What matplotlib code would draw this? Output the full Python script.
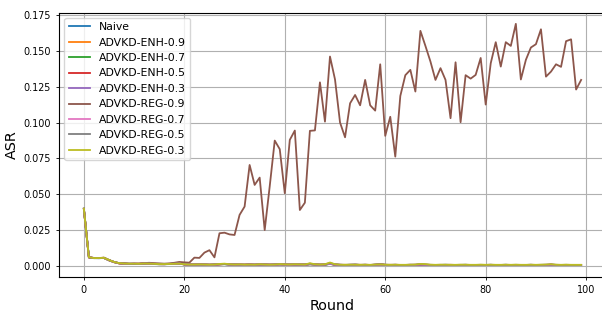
import matplotlib
matplotlib.use("Agg")
import matplotlib.pyplot as plt
import numpy as np

rounds = list(range(100))

labels = ["Naive", "ADVKD-ENH-0.9", "ADVKD-ENH-0.7", "ADVKD-ENH-0.5", "ADVKD-ENH-0.3",
          "ADVKD-REG-0.9", "ADVKD-REG-0.7", "ADVKD-REG-0.5", "ADVKD-REG-0.3"]

naive = [0.0400, 0.0062, 0.0055, 0.0054, 0.0056, 0.0041, 0.0027, 0.0019, 0.0016, 0.0015,
         0.0016, 0.0014, 0.0018, 0.0017, 0.0015, 0.0013, 0.0012, 0.0014, 0.0016, 0.0018,
         0.0012, 0.0010, 0.0009, 0.0011, 0.0010, 0.0008, 0.0009, 0.0012, 0.0013, 0.0011,
         0.0010, 0.0009, 0.0008, 0.0010, 0.0009, 0.0011, 0.0010, 0.0008, 0.0009, 0.0012,
         0.0010, 0.0009, 0.0011, 0.0010, 0.0009, 0.0013, 0.0011, 0.0009, 0.0010, 0.0015,
         0.0010, 0.0008, 0.0007, 0.0008, 0.0009, 0.0007, 0.0008, 0.0006, 0.0009, 0.0012,
         0.0008, 0.0007, 0.0008, 0.0006, 0.0007, 0.0008, 0.0007, 0.0009, 0.0008, 0.0007,
         0.0006, 0.0007, 0.0008, 0.0007, 0.0006, 0.0007, 0.0008, 0.0006, 0.0007, 0.0006,
         0.0007, 0.0008, 0.0006, 0.0007, 0.0008, 0.0006, 0.0007, 0.0006, 0.0007, 0.0008,
         0.0006, 0.0007, 0.0006, 0.0008, 0.0007, 0.0006, 0.0007, 0.0006, 0.0007, 0.0006]

enh_09 = [0.0395, 0.0060, 0.0056, 0.0055, 0.0057, 0.0040, 0.0026, 0.0018, 0.0015, 0.0014,
          0.0015, 0.0016, 0.0017, 0.0015, 0.0014, 0.0012, 0.0013, 0.0015, 0.0014, 0.0016,
          0.0011, 0.0009, 0.0010, 0.0012, 0.0009, 0.0008, 0.0010, 0.0011, 0.0014, 0.0010,
          0.0009, 0.0010, 0.0009, 0.0011, 0.0008, 0.0010, 0.0009, 0.0009, 0.0010, 0.0011,
          0.0009, 0.0010, 0.0010, 0.0009, 0.0010, 0.0012, 0.0010, 0.0008, 0.0011, 0.0016,
          0.0009, 0.0007, 0.0008, 0.0007, 0.0008, 0.0008, 0.0007, 0.0007, 0.0008, 0.0010,
          0.0007, 0.0008, 0.0007, 0.0007, 0.0006, 0.0007, 0.0008, 0.0010, 0.0007, 0.0006,
          0.0007, 0.0006, 0.0007, 0.0008, 0.0007, 0.0006, 0.0007, 0.0007, 0.0006, 0.0007,
          0.0006, 0.0007, 0.0007, 0.0006, 0.0007, 0.0007, 0.0006, 0.0007, 0.0006, 0.0007,
          0.0007, 0.0006, 0.0007, 0.0009, 0.0006, 0.0007, 0.0006, 0.0007, 0.0006, 0.0007]

enh_07 = [0.0398, 0.0061, 0.0054, 0.0055, 0.0055, 0.0039, 0.0027, 0.0019, 0.0016, 0.0015,
          0.0014, 0.0015, 0.0016, 0.0016, 0.0013, 0.0012, 0.0012, 0.0013, 0.0015, 0.0017,
          0.0010, 0.0009, 0.0009, 0.0010, 0.0009, 0.0008, 0.0009, 0.0012, 0.0012, 0.0010,
          0.0009, 0.0009, 0.0008, 0.0009, 0.0008, 0.0010, 0.0009, 0.0008, 0.0009, 0.0011,
          0.0010, 0.0008, 0.0010, 0.0009, 0.0008, 0.0012, 0.0010, 0.0008, 0.0009, 0.0014,
          0.0009, 0.0007, 0.0007, 0.0008, 0.0008, 0.0007, 0.0007, 0.0006, 0.0008, 0.0011,
          0.0007, 0.0007, 0.0007, 0.0006, 0.0006, 0.0007, 0.0007, 0.0009, 0.0007, 0.0006,
          0.0006, 0.0006, 0.0007, 0.0007, 0.0006, 0.0006, 0.0007, 0.0006, 0.0006, 0.0006,
          0.0006, 0.0007, 0.0006, 0.0006, 0.0007, 0.0006, 0.0006, 0.0006, 0.0006, 0.0007,
          0.0006, 0.0006, 0.0006, 0.0008, 0.0006, 0.0006, 0.0006, 0.0006, 0.0006, 0.0006]

enh_05 = [0.0397, 0.0059, 0.0055, 0.0056, 0.0056, 0.0040, 0.0028, 0.0018, 0.0017, 0.0015,
          0.0015, 0.0015, 0.0018, 0.0016, 0.0014, 0.0013, 0.0012, 0.0014, 0.0015, 0.0017,
          0.0011, 0.0010, 0.0009, 0.0011, 0.0010, 0.0009, 0.0009, 0.0011, 0.0013, 0.0011,
          0.0010, 0.0009, 0.0009, 0.0010, 0.0009, 0.0010, 0.0010, 0.0009, 0.0009, 0.0012,
          0.0010, 0.0009, 0.0010, 0.0010, 0.0009, 0.0013, 0.0011, 0.0009, 0.0010, 0.0015,
          0.0009, 0.0008, 0.0007, 0.0008, 0.0008, 0.0007, 0.0008, 0.0007, 0.0008, 0.0011,
          0.0008, 0.0007, 0.0008, 0.0007, 0.0007, 0.0008, 0.0007, 0.0009, 0.0008, 0.0007,
          0.0006, 0.0007, 0.0007, 0.0007, 0.0006, 0.0007, 0.0007, 0.0006, 0.0007, 0.0006,
          0.0007, 0.0007, 0.0006, 0.0007, 0.0007, 0.0006, 0.0007, 0.0006, 0.0007, 0.0007,
          0.0006, 0.0007, 0.0006, 0.0008, 0.0007, 0.0006, 0.0007, 0.0006, 0.0007, 0.0006]

enh_03 = [0.0396, 0.0060, 0.0055, 0.0054, 0.0056, 0.0041, 0.0027, 0.0019, 0.0016, 0.0014,
          0.0015, 0.0014, 0.0017, 0.0016, 0.0014, 0.0012, 0.0013, 0.0014, 0.0015, 0.0016,
          0.0011, 0.0009, 0.0010, 0.0011, 0.0009, 0.0008, 0.0010, 0.0012, 0.0013, 0.0010,
          0.0010, 0.0009, 0.0008, 0.0010, 0.0009, 0.0010, 0.0009, 0.0009, 0.0010, 0.0011,
          0.0009, 0.0009, 0.0010, 0.0010, 0.0009, 0.0012, 0.0010, 0.0009, 0.0010, 0.0014,
          0.0009, 0.0008, 0.0007, 0.0007, 0.0008, 0.0007, 0.0008, 0.0007, 0.0008, 0.0010,
          0.0007, 0.0007, 0.0007, 0.0007, 0.0006, 0.0007, 0.0008, 0.0009, 0.0007, 0.0007,
          0.0006, 0.0007, 0.0007, 0.0007, 0.0006, 0.0007, 0.0007, 0.0006, 0.0007, 0.0006,
          0.0006, 0.0007, 0.0006, 0.0007, 0.0007, 0.0006, 0.0007, 0.0006, 0.0006, 0.0007,
          0.0006, 0.0007, 0.0006, 0.0008, 0.0006, 0.0007, 0.0006, 0.0007, 0.0006, 0.0006]

reg_09 = [0.0400, 0.0060, 0.0055, 0.0055, 0.0058, 0.0040, 0.0028, 0.0020, 0.0018, 0.0016,
          0.0017, 0.0016, 0.0020, 0.0022, 0.0020, 0.0018, 0.0016, 0.0018, 0.0022, 0.0028,
          0.0025, 0.0023, 0.0058, 0.0056, 0.0093, 0.0110, 0.0060, 0.0228, 0.0232, 0.0220,
          0.0216, 0.0356, 0.0414, 0.0704, 0.0565, 0.0616, 0.0250, 0.0555, 0.0874, 0.0814,
          0.0507, 0.0879, 0.0944, 0.0390, 0.0441, 0.0942, 0.0945, 0.1280, 0.1006, 0.1460,
          0.1300, 0.1000, 0.0897, 0.1134, 0.1192, 0.1120, 0.1297, 0.1120, 0.1083, 0.1406,
          0.0907, 0.1040, 0.0762, 0.1185, 0.1330, 0.1367, 0.1216, 0.1639, 0.1534, 0.1425,
          0.1297, 0.1379, 0.1297, 0.1030, 0.1420, 0.1002, 0.1330, 0.1306, 0.1332, 0.1450,
          0.1125, 0.1413, 0.1560, 0.1390, 0.1560, 0.1534, 0.1688, 0.1300, 0.1437, 0.1523,
          0.1546, 0.1650, 0.1320, 0.1355, 0.1406, 0.1388, 0.1567, 0.1580, 0.1230, 0.1297]

reg_07 = [0.0399, 0.0061, 0.0056, 0.0055, 0.0056, 0.0040, 0.0027, 0.0019, 0.0016, 0.0015,
          0.0016, 0.0015, 0.0017, 0.0016, 0.0015, 0.0013, 0.0012, 0.0014, 0.0015, 0.0017,
          0.0011, 0.0010, 0.0009, 0.0011, 0.0010, 0.0008, 0.0009, 0.0013, 0.0014, 0.0011,
          0.0010, 0.0010, 0.0008, 0.0010, 0.0009, 0.0011, 0.0010, 0.0008, 0.0009, 0.0012,
          0.0010, 0.0009, 0.0011, 0.0010, 0.0009, 0.0015, 0.0011, 0.0009, 0.0011, 0.0018,
          0.0010, 0.0008, 0.0007, 0.0008, 0.0009, 0.0007, 0.0008, 0.0007, 0.0009, 0.0011,
          0.0008, 0.0007, 0.0008, 0.0007, 0.0007, 0.0008, 0.0008, 0.0011, 0.0009, 0.0007,
          0.0007, 0.0007, 0.0008, 0.0007, 0.0007, 0.0007, 0.0008, 0.0007, 0.0007, 0.0007,
          0.0007, 0.0008, 0.0007, 0.0007, 0.0008, 0.0007, 0.0007, 0.0007, 0.0007, 0.0008,
          0.0007, 0.0007, 0.0008, 0.0010, 0.0007, 0.0007, 0.0007, 0.0007, 0.0007, 0.0007]

reg_05 = [0.0398, 0.0060, 0.0055, 0.0055, 0.0057, 0.0041, 0.0028, 0.0019, 0.0017, 0.0015,
          0.0015, 0.0015, 0.0017, 0.0017, 0.0014, 0.0013, 0.0013, 0.0014, 0.0016, 0.0017,
          0.0012, 0.0010, 0.0009, 0.0011, 0.0010, 0.0009, 0.0010, 0.0012, 0.0014, 0.0011,
          0.0010, 0.0010, 0.0009, 0.0010, 0.0009, 0.0011, 0.0010, 0.0009, 0.0010, 0.0012,
          0.0010, 0.0010, 0.0011, 0.0010, 0.0010, 0.0016, 0.0011, 0.0009, 0.0011, 0.0020,
          0.0011, 0.0008, 0.0008, 0.0008, 0.0009, 0.0008, 0.0008, 0.0007, 0.0009, 0.0012,
          0.0008, 0.0008, 0.0008, 0.0007, 0.0007, 0.0008, 0.0009, 0.0012, 0.0010, 0.0008,
          0.0007, 0.0008, 0.0008, 0.0008, 0.0007, 0.0008, 0.0008, 0.0007, 0.0007, 0.0008,
          0.0007, 0.0008, 0.0007, 0.0007, 0.0008, 0.0007, 0.0008, 0.0007, 0.0007, 0.0008,
          0.0007, 0.0008, 0.0009, 0.0011, 0.0008, 0.0007, 0.0008, 0.0007, 0.0007, 0.0007]

reg_03 = [0.0400, 0.0061, 0.0055, 0.0055, 0.0057, 0.0042, 0.0028, 0.0020, 0.0017, 0.0016,
          0.0016, 0.0015, 0.0017, 0.0016, 0.0015, 0.0013, 0.0013, 0.0014, 0.0015, 0.0016,
          0.0012, 0.0010, 0.0010, 0.0011, 0.0010, 0.0009, 0.0010, 0.0014, 0.0016, 0.0012,
          0.0010, 0.0011, 0.0009, 0.0010, 0.0009, 0.0012, 0.0010, 0.0009, 0.0010, 0.0013,
          0.0011, 0.0010, 0.0012, 0.0011, 0.0010, 0.0019, 0.0012, 0.0010, 0.0012, 0.0024,
          0.0012, 0.0009, 0.0008, 0.0009, 0.0009, 0.0008, 0.0009, 0.0008, 0.0010, 0.0011,
          0.0009, 0.0008, 0.0009, 0.0008, 0.0008, 0.0009, 0.0010, 0.0014, 0.0013, 0.0009,
          0.0008, 0.0009, 0.0009, 0.0008, 0.0008, 0.0009, 0.0009, 0.0008, 0.0008, 0.0009,
          0.0008, 0.0009, 0.0008, 0.0008, 0.0009, 0.0008, 0.0009, 0.0008, 0.0008, 0.0009,
          0.0008, 0.0009, 0.0010, 0.0012, 0.0009, 0.0008, 0.0009, 0.0008, 0.0008, 0.0008]

series = [naive, enh_09, enh_07, enh_05, enh_03, reg_09, reg_07, reg_05, reg_03]

x_ticks = [0, 20, 40, 60, 80, 100]

fig = plt.figure(figsize=(6.02, 3.16), dpi=100)
ax = fig.add_axes([59 / 602, 39 / 316, 547 / 602, 264.5 / 316])

for vals, lab in zip(series, labels):
    ax.plot(rounds, vals, label=lab, linewidth=1.3)

ax.set_xlim(-4.95, 103.95)
ax.set_ylim(-0.0077, 0.1767)
ax.set_xticks(x_ticks)
ax.grid(True, color="#b0b0b0", linewidth=0.8)
ax.tick_params(labelsize=6.9, length=2.5, width=0.6)
ax.set_xlabel("Round", fontsize=10.3, labelpad=3)
ax.set_ylabel("ASR", fontsize=10.3, labelpad=3)
for s in ax.spines.values():
    s.set_linewidth(0.8)
ax.legend(loc="upper left", fontsize=7.8, borderaxespad=0.5)

fig.savefig("out.png", dpi=100)
